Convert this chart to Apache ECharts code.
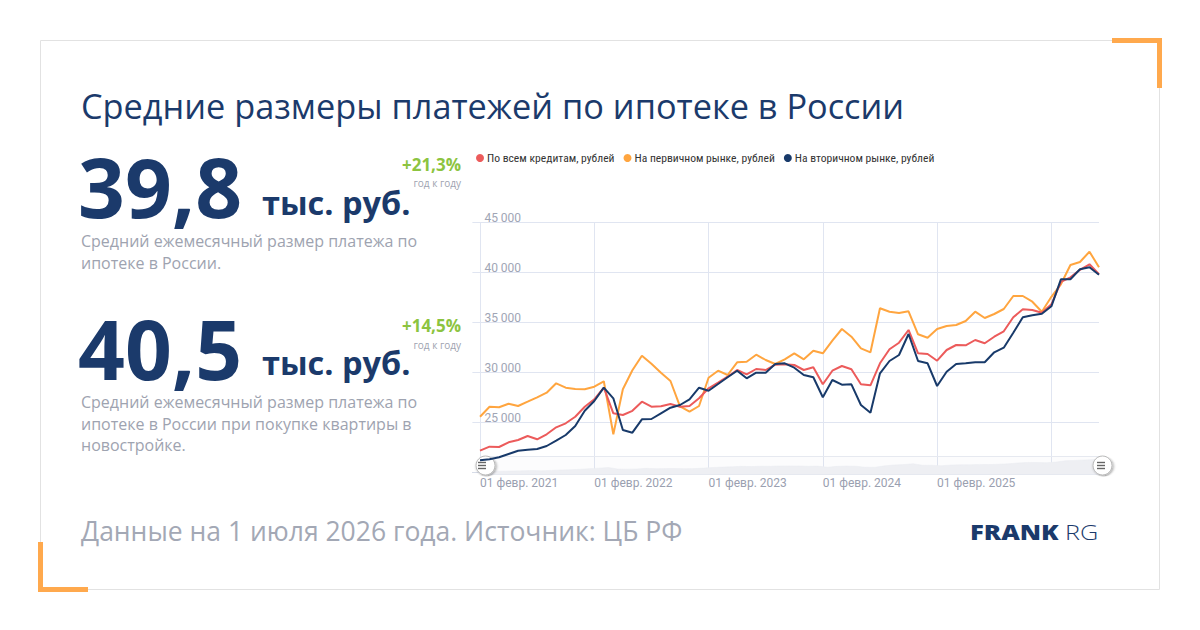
<!DOCTYPE html>
<html>
<head>
<meta charset="utf-8">
<script src="https://cdn.jsdelivr.net/npm/echarts@6/dist/echarts.min.js"></script>
<style>
html,body{margin:0;padding:0;background:#fff;}
#c{width:1200px;height:630px;}
</style>
</head>
<body>
<div id="c"></div>
<script>
var months = ['2021-02','2021-03','2021-04','2021-05','2021-06','2021-07','2021-08','2021-09','2021-10','2021-11','2021-12',
'2022-01','2022-02','2022-03','2022-04','2022-05','2022-06','2022-07','2022-08','2022-09','2022-10','2022-11','2022-12',
'2023-01','2023-02','2023-03','2023-04','2023-05','2023-06','2023-07','2023-08','2023-09','2023-10','2023-11','2023-12',
'2024-01','2024-02','2024-03','2024-04','2024-05','2024-06','2024-07','2024-08','2024-09','2024-10','2024-11','2024-12',
'2025-01','2025-02','2025-03','2025-04','2025-05','2025-06','2025-07','2025-08','2025-09','2025-10','2025-11','2025-12',
'2026-01','2026-02','2026-03','2026-04','2026-05','2026-06','2026-07'];

var seriesNames = ['По всем кредитам, рублей','На первичном рынке, рублей','На вторичном рынке, рублей'];

var allLoans = [22160,22560,22530,23000,23230,23630,23300,23800,24500,24900,25560,
26560,27300,28460,25900,25730,26150,27060,26560,26600,26830,26560,
26630,27400,28400,28960,29560,30230,29800,30330,30230,30760,30800,
30730,30230,30500,28800,30160,30630,30300,28800,28700,30900,32300,
32960,34230,31900,31830,31160,32230,32730,32700,33230,32900,33560,
34100,35500,36300,36230,35960,36800,39050,39500,40250,40800,39800];

var primaryMarket = [25560,26560,26500,26860,26630,27060,27500,27960,28900,28460,28330,
28300,28560,29100,23800,28300,30200,31660,30850,29950,29130,26600,
26060,26630,29460,30160,29730,31000,31060,31760,31230,30830,31300,
31900,31300,32160,31900,33160,34330,33560,32400,32000,36400,36060,
35930,36100,33800,33460,34330,34630,34730,35130,36060,35430,35830,
36330,37630,37630,37060,36060,37550,38800,40730,41030,42060,40500];

var secondaryMarket = [21200,21300,21500,21830,22160,22260,22330,22630,23160,23730,24630,
26160,27130,28460,27400,24230,23960,25300,25330,25900,26460,26730,
27300,28460,28160,28830,29500,30160,29400,29960,29960,30830,30900,
30460,29730,29500,27500,29230,28760,28800,26730,25960,29900,31130,
31730,33830,31130,30900,28630,30060,30830,30900,31000,31000,32000,
32460,33960,35500,35700,35860,36600,39300,39300,40300,40500,39750];

var xTickPos = [0,12,24,36,48,60];
var xTickLabelPos = [0,12,24,36,48];
var xTickLabels = ['01 февр. 2021','01 февр. 2022','01 февр. 2023','01 февр. 2024','01 февр. 2025'];

var yTicks = [20000,25000,30000,35000,40000,45000];

var colors = ['#ec5b5b','#ffa53f','#183a6a'];

function pairs(arr){ return months.map(function(m,i){ return [i, arr[i]]; }); }

var NAVY = '#1b3a6b';
var GRAY = '#9ea3b0';
var GREEN = '#8cc43f';
var ORANGE = '#ffa94d';

function T(text, x, y, size, color, weight, align, lh){
  return {type:'text', silent:true, z:10, style:{text:text, x:x, y:y, fill:color,
    font:(weight||'normal') + ' ' + size + 'px "Open Sans"', align:align||'left', verticalAlign:'middle',
    lineHeight: lh || Math.round(size*1.2)}};
}

var graphics = [
  {type:'rect', silent:true, z:1, shape:{x:40.5,y:40.5,width:1119,height:549}, style:{fill:'none', stroke:'#e2e2e2', lineWidth:1}},
  {type:'rect', silent:true, z:2, shape:{x:1112,y:38,width:50,height:5}, style:{fill:ORANGE}},
  {type:'rect', silent:true, z:2, shape:{x:1157,y:38,width:5,height:50}, style:{fill:ORANGE}},
  {type:'rect', silent:true, z:2, shape:{x:38,y:542,width:5,height:50}, style:{fill:ORANGE}},
  {type:'rect', silent:true, z:2, shape:{x:38,y:587,width:50,height:5}, style:{fill:ORANGE}},
  T('Средние размеры платежей по ипотеке в России', 81, 105.5, 34.3, NAVY),
  T('39,8', 78, 186, 82, NAVY, 'bold', 'left', 60),
  T('тыс. руб.', 262, 202.5, 32.5, NAVY, 'bold', 'left', 26),
  T('+21,3%', 461, 164, 17, GREEN, 'bold', 'right', 16),
  T('год к году', 461, 183, 10, GRAY, 'normal', 'right', 10),
  T('Средний ежемесячный размер платежа по', 81, 241, 16, GRAY, 'normal', 'left', 18),
  T('ипотеке в России.', 81, 262.5, 16, GRAY, 'normal', 'left', 18),
  T('40,5', 78, 348, 82, NAVY, 'bold', 'left', 60),
  T('тыс. руб.', 262, 362.5, 32.5, NAVY, 'bold', 'left', 26),
  T('+14,5%', 461, 325, 17, GREEN, 'bold', 'right', 16),
  T('год к году', 461, 344.5, 10, GRAY, 'normal', 'right', 10),
  T('Средний ежемесячный размер платежа по', 81, 401.5, 16, GRAY, 'normal', 'left', 18),
  T('ипотеке в России при покупке квартиры в', 81, 423.5, 16, GRAY, 'normal', 'left', 18),
  T('новостройке.', 81, 445, 16, GRAY, 'normal', 'left', 18),
  T('Данные на 1 июля 2026 года. Источник: ЦБ РФ', 81, 531, 26.5, '#a3a8b5', 'normal', 'left', 30),
  {type:'text', silent:true, z:10, x:970, y:532, scaleX:1.22,
    style:{text:'FRANK', x:0, y:0, fill:NAVY, font:'900 21px "Open Sans"', align:'left', verticalAlign:'middle'}},
  {type:'text', silent:true, z:10, x:1065, y:532, scaleX:1.2,
    style:{text:'RG', x:0, y:0, fill:NAVY, font:'300 21px "Open Sans"', align:'left', verticalAlign:'middle'}}
];

function grip(cx, cy){
  var out = [];
  [-3, 0, 3].forEach(function(d){
    out.push({type:'rect', silent:true, z:200, zlevel:0, shape:{x:cx-4, y:cy+d-0.7, width:8, height:1.4}, style:{fill:'#666'}});
  });
  return out;
}
graphics = graphics.concat(grip(482, 465.5)).concat(grip(1101, 465.5));

var chart = echarts.init(document.getElementById('c'), null, {renderer:'svg', width:1200, height:630});

var option = {
  animation:false,
  backgroundColor:'#fff',
  color: colors,
  textStyle:{fontFamily:'Roboto'},
  legend:{
    left:476, top:152, padding:0, itemGap:9,
    icon:'circle', itemWidth:8, itemHeight:8,
    textStyle:{fontFamily:'"Liberation Sans Narrow", "Roboto Condensed", Roboto', fontSize:11.6, color:'#333', padding:[0,0,0,-2]},
    data: seriesNames
  },
  grid:{left:472.4, right:101, top:222.3, height:250, containLabel:false},
  xAxis:{
    type:'value', min:-0.8, max:65,
    axisLine:{show:true, lineStyle:{color:'#d7dce8'}},
    axisTick:{show:false, customValues:xTickPos},
    splitLine:{show:true, lineStyle:{color:'#e0e5f1', width:1}},
    axisLabel:{
      customValues:xTickLabelPos,
      formatter:function(v){ var k = xTickLabelPos.indexOf(v); return k>=0 ? xTickLabels[k] : ''; },
      align:'left', color:'#9aa0b0', fontSize:12, fontFamily:'Roboto', margin:5
    }
  },
  yAxis:{
    type:'value', min:yTicks[0], max:yTicks[yTicks.length-1], interval:5000,
    axisLine:{show:false}, axisTick:{show:false},
    splitLine:{lineStyle:{color:'#e0e5f1', width:1}},
    axisLabel:{
      inside:true, showMinLabel:false,
      formatter:function(v){ return String(v).replace(/\B(?=(\d{3})+(?!\d))/g, ' '); },
      align:'left', verticalAlign:'bottom', lineHeight:9, color:'#a0a5b5', fontSize:12, fontFamily:'Roboto', margin:12
    }
  },
  dataZoom:[{
    type:'slider', xAxisIndex:0, filterMode:'none',
    left:482, right:99, top:456, height:19,
    start:0, end:100,
    showDetail:false, brushSelect:false,
    backgroundColor:'rgba(0,0,0,0)',
    borderColor:'#e6e9f0',
    fillerColor:'rgba(200,205,215,0.06)',
    dataBackground:{lineStyle:{color:'#eceef3', width:0.5, opacity:1}, areaStyle:{color:'#f1f2f5', opacity:1}},
    selectedDataBackground:{lineStyle:{color:'#eceef3', width:0.5, opacity:1}, areaStyle:{color:'#f1f2f5', opacity:1}},
    handleIcon:'circle', handleSize:'100%',
    handleStyle:{color:'#fff', borderColor:'#b8b8b8', borderWidth:1, shadowBlur:3, shadowColor:'rgba(0,0,0,0.35)', shadowOffsetX:1, shadowOffsetY:1},
    moveHandleSize:0,
    emphasis:{handleStyle:{color:'#fff'}}
  }],
  series:[
    {name:seriesNames[0], type:'line', data:pairs(allLoans), showSymbol:false, symbol:'none', lineStyle:{width:2}, z:3},
    {name:seriesNames[1], type:'line', data:pairs(primaryMarket), showSymbol:false, symbol:'none', lineStyle:{width:2}, z:2},
    {name:seriesNames[2], type:'line', data:pairs(secondaryMarket), showSymbol:false, symbol:'none', lineStyle:{width:2}, z:4}
  ],
  graphic: graphics
};
chart.setOption(option);
</script>
</body>
</html>
